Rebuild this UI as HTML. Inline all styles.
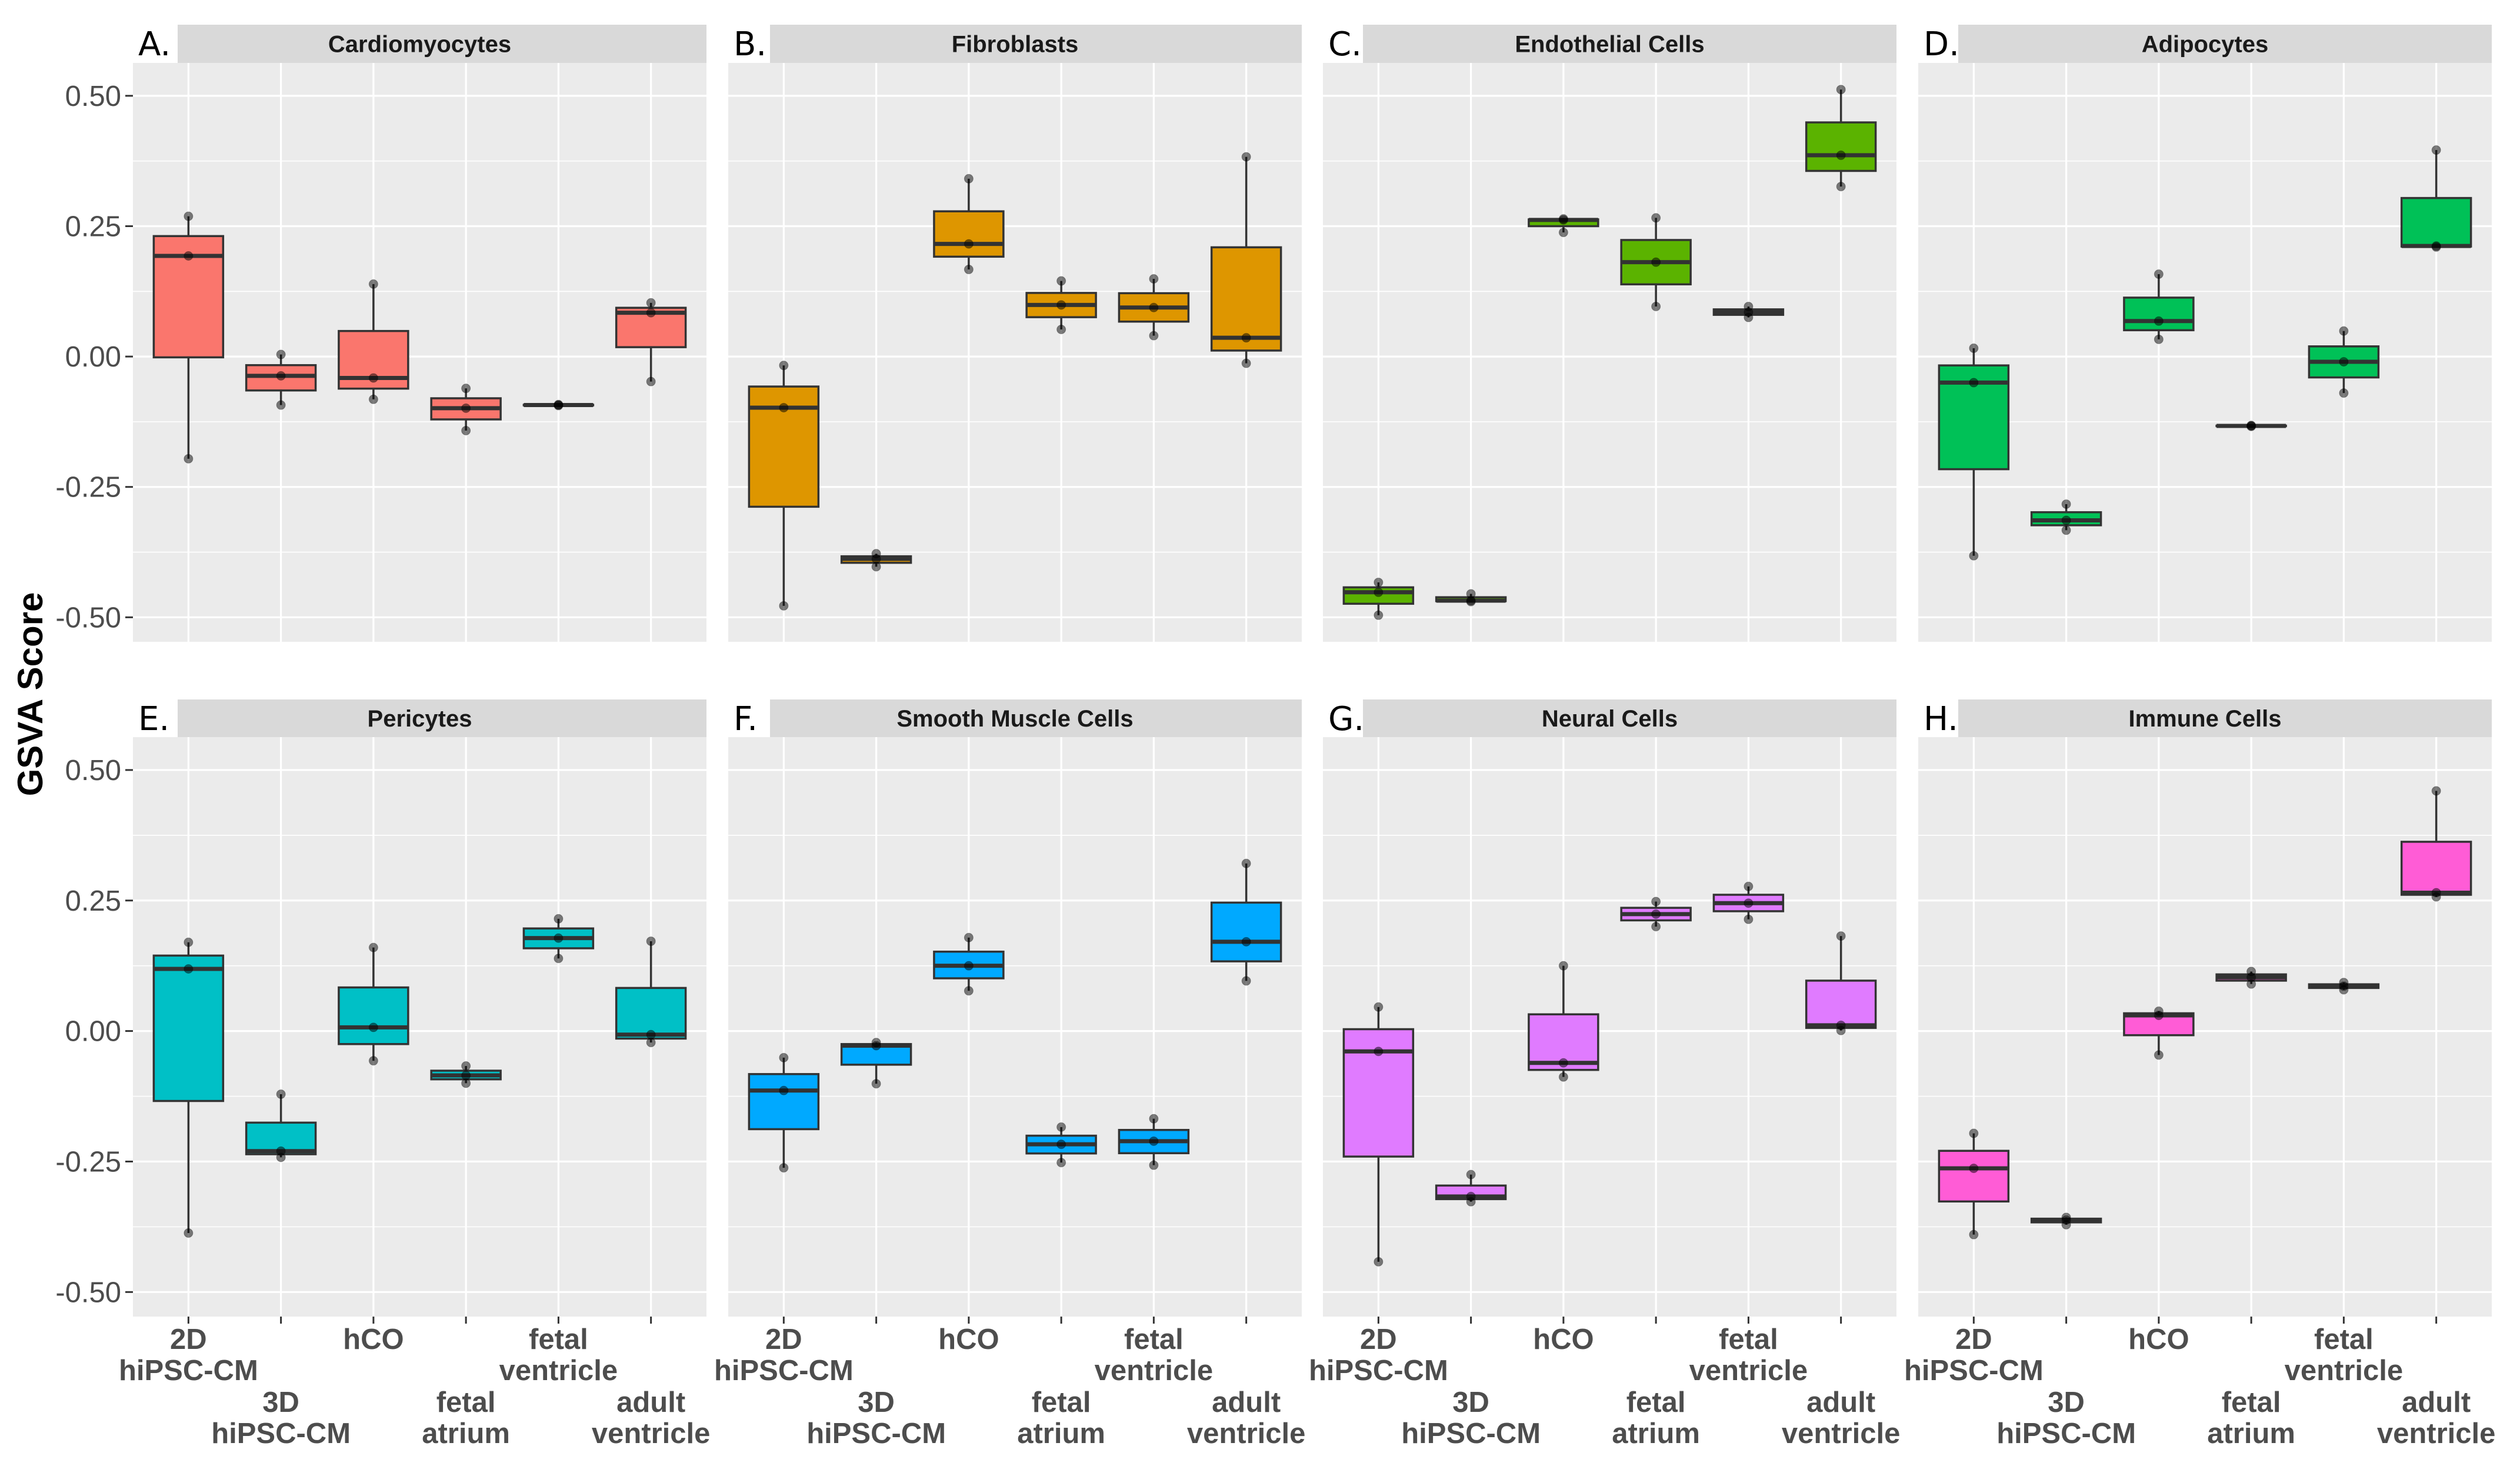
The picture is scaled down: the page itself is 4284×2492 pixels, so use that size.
<!DOCTYPE html>
<html><head><meta charset="utf-8"><style>
html,body{margin:0;padding:0;background:#fff;}
svg{display:block;}
</style></head><body>
<svg id="chart" xmlns="http://www.w3.org/2000/svg" width="4284" height="2492" viewBox="0 0 4284 2492" font-family="'Liberation Sans', Arial, sans-serif">
<rect x="0" y="0" width="4284" height="2492" fill="#ffffff"/>
<text x="0" y="0" transform="translate(72,1180) rotate(-90)" text-anchor="middle" font-size="60" font-weight="bold" fill="#000">GSVA Score</text>
</svg>
<script>
const categories = ["2D\nhiPSC-CM","3D\nhiPSC-CM","hCO","fetal\natrium","fetal\nventricle","adult\nventricle"];
const panelTitles = ["Cardiomyocytes","Fibroblasts","Endothelial Cells","Adipocytes","Pericytes","Smooth Muscle Cells","Neural Cells","Immune Cells"];
const panelLetters = ["A.","B.","C.","D.","E.","F.","G.","H."];
const panelColors = ["#FA766D","#DE9600","#5BB300","#00C157","#00C0C6","#00A9FF","#E07BFF","#FF5CD6"];
const yTicks = [-0.5,-0.25,0,0.25,0.5];
const yTickLabels = ["-0.50","-0.25","0.00","0.25","0.50"];
const yMinor = [-0.375,-0.125,0.125,0.375];
// 3 samples per group (GSVA scores) per panel
const cardiomyocytes = [[0.269,0.193,-0.196],[0.004,-0.037,-0.093],[0.139,-0.041,-0.082],[-0.061,-0.099,-0.142],[-0.092,-0.093,-0.094],[0.103,0.084,-0.048]];
const fibroblasts = [[-0.017,-0.098,-0.478],[-0.378,-0.388,-0.403],[0.341,0.216,0.167],[0.145,0.099,0.052],[0.149,0.094,0.040],[0.383,0.036,-0.013]];
const endothelial = [[-0.433,-0.452,-0.496],[-0.455,-0.468,-0.470],[0.264,0.262,0.238],[0.266,0.181,0.096],[0.096,0.085,0.075],[0.512,0.386,0.326]];
const adipocytes = [[0.016,-0.050,-0.382],[-0.283,-0.314,-0.333],[0.158,0.068,0.033],[-0.132,-0.133,-0.134],[0.049,-0.010,-0.070],[0.396,0.212,0.210]];
const pericytes = [[0.170,0.119,-0.387],[-0.121,-0.230,-0.242],[0.160,0.007,-0.057],[-0.067,-0.085,-0.100],[0.215,0.178,0.139],[0.172,-0.007,-0.022]];
const smoothMuscle = [[-0.051,-0.114,-0.262],[-0.022,-0.028,-0.101],[0.179,0.125,0.077],[-0.184,-0.217,-0.252],[-0.168,-0.211,-0.257],[0.321,0.171,0.096]];
const neural = [[0.046,-0.039,-0.442],[-0.275,-0.317,-0.327],[0.125,-0.061,-0.088],[0.248,0.224,0.200],[0.277,0.245,0.214],[0.182,0.011,0.001]];
const immune = [[-0.196,-0.263,-0.390],[-0.357,-0.362,-0.371],[0.038,0.030,-0.046],[0.114,0.103,0.090],[0.093,0.086,0.079],[0.460,0.265,0.257]];
const panelData = [cardiomyocytes,fibroblasts,endothelial,adipocytes,pericytes,smoothMuscle,neural,immune];

const NS = "http://www.w3.org/2000/svg";
const svg = document.getElementById("chart");
const colLeft = [226,1238,2249,3261];
const plotW = 975;
const rows = [{stripTop:42,top:107,bottom:1091},{stripTop:1189,top:1253,bottom:2238}];
const stripOff = [76,71,68,68];
const Y0 = -0.547, Y1 = 0.563;
function mk(tag, attrs, parent){ const e=document.createElementNS(NS,tag); for(const k in attrs) e.setAttribute(k,attrs[k]); (parent||svg).appendChild(e); return e; }
function q7(s,p){ const h=(s.length-1)*p; const lo=Math.floor(h); const hi=Math.ceil(h); return s[lo]+(h-lo)*(s[hi]-s[lo]); }

panelData.forEach((groups, pi) => {
  const r = rows[Math.floor(pi/4)], c = pi%4;
  const L = colLeft[c], R = L+plotW;
  const yS = v => r.bottom - (v - Y0)/(Y1 - Y0)*(r.bottom - r.top);
  const unit = plotW/6.2;
  const xS = i => L + unit*(0.6 + i);
  const g = mk("g", {});
  
  
  // strip
  const strip = mk("rect",{x:L,y:r.stripTop,width:plotW,height:r.top-r.stripTop,fill:"#D9D9D9"},g);
  
  
  mk("rect",{x:L,y:r.stripTop,width:stripOff[c],height:r.top-r.stripTop,fill:"#fff"},g);
  const st = mk("text",{x:L+plotW/2,y:(r.stripTop+r.top)/2+14,"text-anchor":"middle","font-size":40,"font-weight":"bold",fill:"#1a1a1a"},g);
  st.textContent = panelTitles[pi];
  
  
  const lt = mk("text",{x:L+9,y:r.stripTop+52,"font-size":56,fill:"#000","font-family":"'DejaVu Sans', sans-serif"},g);
  lt.textContent = panelLetters[pi];
  
  
  // background
  const bg = mk("rect",{x:L,y:r.top,width:plotW,height:r.bottom-r.top,fill:"#EBEBEB"},g);
  
  
  yMinor.forEach(v => mk("line",{x1:L,x2:R,y1:yS(v),y2:yS(v),stroke:"#fff","stroke-width":1.6},g));
  yTicks.forEach(v => mk("line",{x1:L,x2:R,y1:yS(v),y2:yS(v),stroke:"#fff","stroke-width":3.2},g));
  categories.forEach((cat,i) => mk("line",{x1:xS(i),x2:xS(i),y1:r.top,y2:r.bottom,stroke:"#fff","stroke-width":3.2},g));
  // y axis labels (left column)
  if (c === 0) {
    yTicks.forEach((v,k) => {
      mk("line",{x1:L-13,x2:L,y1:yS(v),y2:yS(v),stroke:"#333","stroke-width":3},g);
      const t = mk("text",{x:L-20,y:yS(v)+17,"text-anchor":"end","font-size":49,fill:"#4d4d4d"},g);
      t.textContent = yTickLabels[k];
      
      
    });
  }
  // x axis labels (bottom row)
  if (pi >= 4) {
    categories.forEach((cat,i) => {
      mk("line",{x1:xS(i),x2:xS(i),y1:r.bottom,y2:r.bottom+12,stroke:"#333","stroke-width":3},g);
      const lines = cat.split("\n");
      const base = (i%2===0) ? r.bottom+55 : r.bottom+162;
      lines.forEach((ln,k) => {
        const t = mk("text",{x:xS(i),y:base+k*53,"text-anchor":"middle","font-size":49,"font-weight":"bold",fill:"#4d4d4d"},g);
        t.textContent = ln;
        
        
      });
    });
  }
  // boxes
  groups.forEach((vals,i) => {
    const s = vals.slice().sort((a,b)=>a-b);
    const q1 = q7(s,0.25), med = q7(s,0.5), q3 = q7(s,0.75), iqr = q3-q1;
    const lo = Math.min(...s.filter(v => v >= q1-1.5*iqr));
    const hi = Math.max(...s.filter(v => v <= q3+1.5*iqr));
    const x = xS(i), bw = unit*0.75;
    const bg2 = mk("g",{},g);
    
    
    mk("line",{x1:x,x2:x,y1:yS(hi),y2:yS(q3),stroke:"#333","stroke-width":3.5},bg2);
    mk("line",{x1:x,x2:x,y1:yS(q1),y2:yS(lo),stroke:"#333","stroke-width":3.5},bg2);
    mk("rect",{x:x-bw/2,y:yS(q3),width:bw,height:Math.max(0.5,yS(q1)-yS(q3)),fill:panelColors[pi],stroke:"#333","stroke-width":3.5},bg2);
    mk("line",{x1:x-bw/2,x2:x+bw/2,y1:yS(med),y2:yS(med),stroke:"#333","stroke-width":7},bg2);
    s.forEach(v => {
      const p = mk("circle",{cx:x,cy:yS(v),r:7.5,fill:"rgba(0,0,0,0.5)",stroke:"rgba(0,0,0,0.3)","stroke-width":1},bg2);
      
      
    });
  });
});
</script>
</body></html>
